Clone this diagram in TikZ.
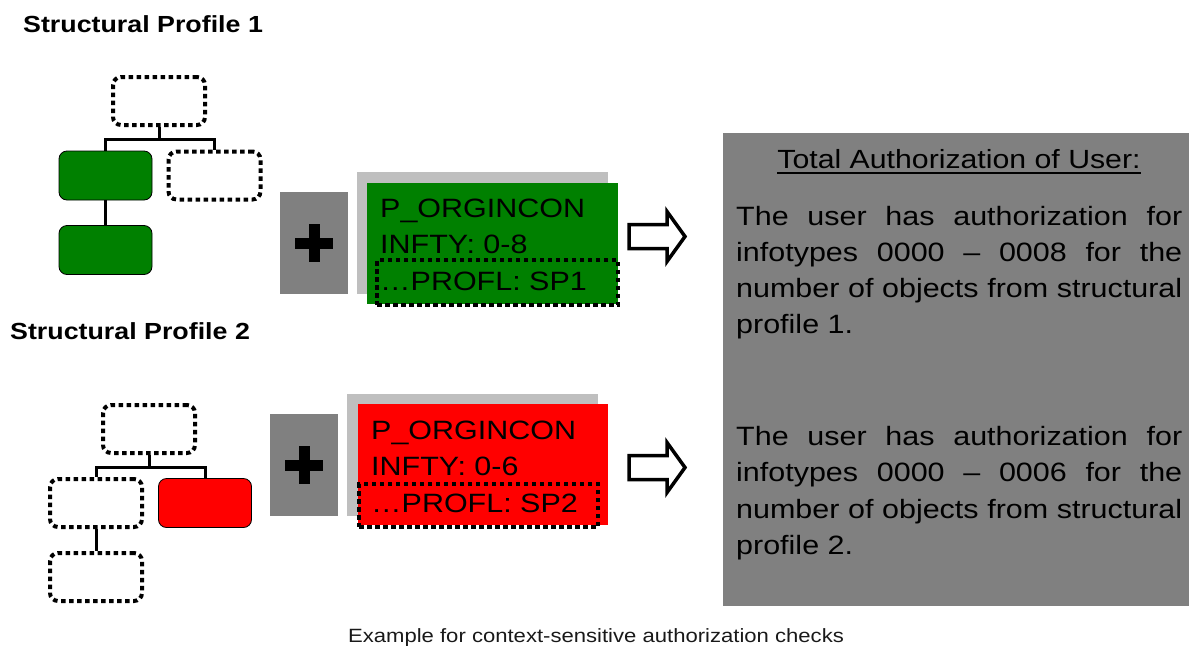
\documentclass[tikz,border=0pt]{standalone}
\usepackage{fontspec}
\setmainfont{Liberation Sans}[FakeStretch=1.15]
\usetikzlibrary{positioning,calc}

\definecolor{orggreen}{RGB}{0,128,0}
\definecolor{orgred}{RGB}{255,0,0}
\definecolor{panelgray}{RGB}{128,128,128}
\definecolor{shadowgray}{RGB}{191,191,191}

\newcommand{\jline}[1]{\makebox[446pt][s]{#1}}

\begin{document}
\begin{tikzpicture}[x=1pt,y=-1pt,
  orgdotted/.style={draw=black,line width=4pt,dash pattern=on 4.5pt off 3.5pt,
    rounded corners=8pt,fill=white,minimum width=92pt,minimum height=48pt,inner sep=0pt},
  orgfilled/.style={draw=black,line width=0.8pt,rounded corners=8pt,
    minimum width=93pt,minimum height=49pt,inner sep=0pt},
  treeline/.style={line width=3pt},
  plusbox/.style={fill=panelgray,minimum width=68pt,minimum height=102pt,inner sep=0pt,
    path picture={\draw[line width=11pt]
      (path picture bounding box.center) +(-19,0) -- +(19,0)
      (path picture bounding box.center) +(0,-19) -- +(0,19);}},
  shadowbox/.style={fill=shadowgray,minimum width=251pt,minimum height=122pt,inner sep=0pt},
  objbox/.style={minimum width=251pt,minimum height=121pt,inner sep=0pt},
  profframe/.style={draw=black,line width=4pt,dash pattern=on 4.5pt off 3.5pt,inner sep=0pt},
  boxtext/.style={anchor=base west,inner sep=0pt,font=\fontsize{26.5}{32}\selectfont},
  titletext/.style={anchor=base west,inner sep=0pt,font=\fontsize{23.3}{28}\selectfont\bfseries},
  arrowline/.style={draw=black,fill=white,line width=3.5pt},
]
\useasboundingbox (0,0) rectangle (1190,648);

% #1 = tail x, #2 = centre y
\newcommand{\hollowarrow}[2]{%
  \draw[arrowline] (#1,#2) ++(0,-12) -- ++(38,0) -- ++(0,-13) -- ++(18,25)
    -- ++(-18,25) -- ++(0,-13) -- ++(-38,0) -- cycle;}

% Structural profile 1.
\node[titletext] (sp1) at (23,32) {Structural Profile 1};
\node[orgdotted] (t1) at (159,101) {};
\node[orgfilled,fill=orggreen] (a1) at (105.5,175.5) {};
\node[orgdotted] (b1) at (214.5,175.5) {};
\node[orgfilled,fill=orggreen] (c1) at (105.5,250) {};
\draw[treeline] (t1.south) -- ++(0,12) coordinate (j1) -| (a1.north);
\draw[treeline] (j1) -| (b1.north);
\draw[treeline] (a1.south) -- (c1.north);

\node[plusbox] (plus1) at (314,243) {};
\node[shadowbox] (sh1) at (482,233) {};
\node[objbox,fill=orggreen] (ob1) at (492.5,243.5) {};
\foreach \txt [count=\i from 0] in {P\_ORGINCON,INFTY: 0-8,…PROFL: SP1}
  \node[boxtext] (ob1l\i) at (380,217+36.5*\i) {\txt};
\node[profframe,minimum width=241pt,minimum height=45pt] (pf1) at (497.5,282.5) {};
\hollowarrow{629}{236.5}

% Structural profile 2.
\node[titletext] (sp2) at (10,339) {Structural Profile 2};
\node[orgdotted] (t2) at (149,429) {};
\node[orgdotted] (a2) at (96,503) {};
\node[orgfilled,fill=orgred] (b2) at (205,503) {};
\node[orgdotted] (c2) at (96,577) {};
\draw[treeline] (t2.south) -- ++(0,12) coordinate (j2) -| (a2.north);
\draw[treeline] (j2) -| (b2.north);
\draw[treeline] (a2.south) -- (c2.north);

\node[plusbox] (plus2) at (304,465) {};
\node[shadowbox] (sh2) at (472.5,455) {};
\node[objbox,fill=orgred,minimum width=250pt] (ob2) at (483,464.5) {};
\foreach \txt [count=\i from 0] in {P\_ORGINCON,INFTY: 0-6,…PROFL: SP2}
  \node[boxtext] (ob2l\i) at (371,439+36.5*\i) {\txt};
\node[profframe,minimum width=239pt,minimum height=43pt] (pf2) at (478.5,505.5) {};
\hollowarrow{629}{467.5}

% Total authorization panel.
\fill[panelgray] (723,133) rectangle (1189,606);
\node[anchor=base,inner sep=0pt,font=\fontsize{26.3}{30}\selectfont] (hdr) at (959,168)
  {Total Authorization of User:};
\draw[line width=1.8pt] ($(hdr.base west)+(0,5)$) -- ($(hdr.base east)+(0,5)$);

\foreach \txt [count=\i from 0] in {{\jline{The user has authorization for}},
    {\jline{infotypes 0000 -- 0008 for the}},
    {\jline{number of objects from structural}},
    {profile 1.}}
  \node[boxtext] (au1l\i) at (736,225+36.3*\i) {\txt};

\foreach \txt [count=\i from 0] in {{\jline{The user has authorization for}},
    {\jline{infotypes 0000 -- 0006 for the}},
    {\jline{number of objects from structural}},
    {profile 2.}}
  \node[boxtext] (au2l\i) at (736,445+36.5*\i) {\txt};

% Caption.
\node[anchor=base,inner sep=0pt,text=black!90,font=\fontsize{19.2}{22}\selectfont] (cap)
  at (596,642) {Example for context-sensitive authorization checks};

\end{tikzpicture}
\end{document}
